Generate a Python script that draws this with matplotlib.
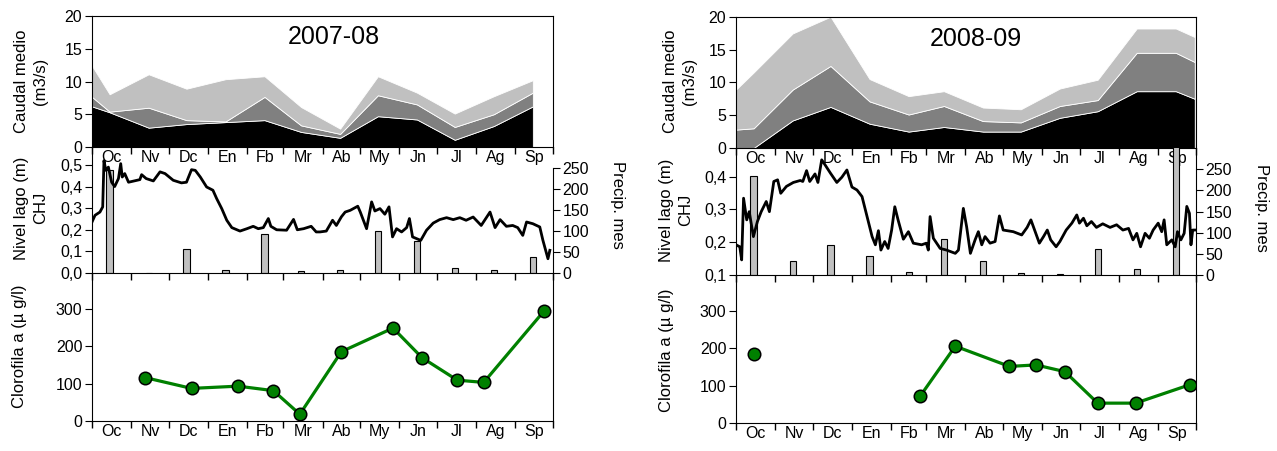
import numpy as np
import matplotlib
matplotlib.use('Agg')
import matplotlib.pyplot as plt
from matplotlib.ticker import FixedLocator, NullFormatter, FuncFormatter

plt.rcParams['font.family'] = ['Liberation Sans', 'DejaVu Sans']

month_labels = ['Oc', 'Nv', 'Dc', 'En', 'Fb', 'Mr', 'Ab', 'My', 'Jn', 'Jl', 'Ag', 'Sp']

# ---------------- 2007-08 ----------------
caudal_dates_0708 = ['2007-10-01', '2007-10-15', '2007-11-15', '2007-12-15', '2008-01-15',
                     '2008-02-15', '2008-03-15', '2008-04-15', '2008-05-15', '2008-06-15',
                     '2008-07-15', '2008-08-15', '2008-09-15']
caudal_black_0708 = [6.2, 5.3, 2.95, 3.5, 3.8, 4.1, 2.3, 1.4, 4.7, 4.2, 1.1, 3.2, 6.2]
caudal_dark_0708 = [1.45, 0.1, 3.05, 0.6, 0.1, 3.55, 1.0, 0.6, 3.2, 2.3, 1.96, 1.8, 2.1]
caudal_light_0708 = [4.75, 2.65, 5.1, 4.8, 6.45, 3.15, 2.8, 0.8, 2.9, 1.8, 2.04, 2.75, 1.9]

precip_0708 = [245, 0, 58, 6, 92, 4, 7, 101, 76, 12, 8, 37]

nivel_days_0708 = [0, 2.4, 6.3, 8.5, 9.5, 11, 13, 15.6, 18, 21, 22.8, 24, 26, 29, 38, 39.4, 43,
                   48.7, 54, 58, 64.5, 71, 75, 79, 82, 86, 91, 96, 99, 103, 107, 111, 117.5,
                   123, 128, 132, 136, 140, 142, 146.6, 154.5, 160, 163, 168, 174, 178, 181,
                   186, 191, 194, 198, 201, 205, 211, 213, 218, 222, 224.6, 228.6, 232.5,
                   235.8, 238.6, 241.8, 245.8, 249.8, 252, 254.5, 257.7, 261, 265.6, 270.9,
                   276, 281.5, 286.8, 292, 297, 302.6, 309, 316, 320, 324, 329, 334, 338, 342,
                   345, 350, 355.5, 358, 362, 363.5]
nivel_vals_0708 = [0.236, 0.267, 0.282, 0.306, 0.52, 0.475, 0.49, 0.42, 0.40, 0.437, 0.506,
                   0.444, 0.46, 0.42, 0.432, 0.455, 0.437, 0.426, 0.468, 0.46, 0.429, 0.417,
                   0.42, 0.478, 0.475, 0.444, 0.398, 0.383, 0.344, 0.298, 0.244, 0.21, 0.194,
                   0.205, 0.216, 0.205, 0.21, 0.252, 0.216, 0.20, 0.198, 0.248, 0.20, 0.205,
                   0.216, 0.19, 0.19, 0.194, 0.244, 0.22, 0.26, 0.282, 0.29, 0.309, 0.282,
                   0.205, 0.329, 0.287, 0.298, 0.272, 0.306, 0.167, 0.205, 0.19, 0.21, 0.252,
                   0.167, 0.159, 0.151, 0.198, 0.231, 0.247, 0.256, 0.247, 0.256, 0.244, 0.259,
                   0.22, 0.282, 0.21, 0.247, 0.216, 0.22, 0.21, 0.174, 0.236, 0.228, 0.213,
                   0.151, 0.066, 0.105]

chl_dates_0708 = ['2007-11-12', '2007-12-19', '2008-01-25', '2008-02-22', '2008-03-14',
                  '2008-04-16', '2008-05-27', '2008-06-19', '2008-07-17', '2008-08-07',
                  '2008-09-24']
chl_vals_0708 = [116, 87, 93, 81, 18, 185, 248, 169, 109, 103, 294]

# ---------------- 2008-09 ----------------
caudal_dates_0809 = ['2008-10-01', '2008-10-15', '2008-11-15', '2008-12-15', '2009-01-15',
                     '2009-02-15', '2009-03-15', '2009-04-15', '2009-05-15', '2009-06-15',
                     '2009-07-15', '2009-08-15', '2009-09-15', '2009-09-30']
caudal_black_0809 = [0, 0, 4.2, 6.26, 3.7, 2.5, 3.2, 2.5, 2.5, 4.6, 5.6, 8.65, 8.65, 7.5]
caudal_dark_0809 = [2.8, 3.0, 4.7, 6.24, 3.4, 2.6, 3.2, 1.6, 1.4, 1.8, 1.7, 5.85, 5.85, 5.6]
caudal_light_0809 = [6.1, 8.5, 8.55, 7.5, 3.4, 2.8, 2.25, 2.06, 2.0, 2.66, 3.1, 3.7, 3.7, 3.8]

precip_0809 = [234, 34, 72, 45, 8, 85, 34, 5, 2, 61, 13, 320]

nivel_days_0809 = [0, 3, 4.5, 6, 8.5, 10.5, 13.8, 17, 20, 24, 26.5, 30, 33, 35.5, 40, 45.5, 51,
                   53, 56, 58.5, 62.7, 65, 68, 70.6, 75, 80, 84, 88, 92, 96, 100, 104, 108,
                   110.6, 113, 115, 118, 120.7, 123.5, 126, 128.6, 132.8, 136.8, 140.7, 147.3,
                   151, 152.6, 154, 156.6, 162, 167, 174, 176.5, 180.4, 183, 186, 189.7,
                   192.3, 195, 197.6, 201.6, 205.6, 209, 212, 220, 226.7, 231, 234, 237.4,
                   240.7, 244, 247, 249.7, 254, 257, 262, 266.5, 270.4, 272.5, 275.7, 278.4,
                   282, 286, 291, 296.8, 302, 307, 311.5, 315, 318, 321, 324.6, 328, 331, 335,
                   337.8, 339.7, 341.8, 345.8, 348.5, 350.3, 353, 355.6, 357.7, 359.8, 361,
                   362.4, 364]
nivel_vals_0809 = [0.192, 0.186, 0.146, 0.334, 0.268, 0.293, 0.217, 0.263, 0.293, 0.324, 0.293,
                   0.385, 0.39, 0.349, 0.37, 0.382, 0.388, 0.385, 0.418, 0.385, 0.408, 0.382,
                   0.451, 0.436, 0.41, 0.382, 0.398, 0.42, 0.368, 0.359, 0.339, 0.278, 0.217,
                   0.192, 0.235, 0.176, 0.202, 0.181, 0.237, 0.308, 0.268, 0.209, 0.232, 0.197,
                   0.192, 0.197, 0.176, 0.278, 0.212, 0.181, 0.176, 0.166, 0.176, 0.303, 0.247,
                   0.166, 0.207, 0.232, 0.192, 0.217, 0.197, 0.202, 0.28, 0.237, 0.232, 0.222,
                   0.245, 0.268, 0.232, 0.197, 0.217, 0.237, 0.207, 0.186, 0.202, 0.237, 0.258,
                   0.283, 0.258, 0.273, 0.25, 0.263, 0.245, 0.256, 0.245, 0.253, 0.237, 0.242,
                   0.207, 0.227, 0.186, 0.227, 0.212, 0.237, 0.258, 0.232, 0.268, 0.192, 0.207,
                   0.186, 0.232, 0.207, 0.227, 0.309, 0.288, 0.192, 0.237, 0.237]

chl_dates_0809 = ['2008-10-15', '2009-02-24', '2009-03-24', '2009-05-06', '2009-05-27',
                  '2009-06-19', '2009-07-15', '2009-08-14', '2009-09-26']
chl_vals_0809 = [185, 71, 205, 151, 155, 137, 53, 53, 102]

W, H = 1277, 451
fig = plt.figure(figsize=(W / 100, H / 100), dpi=100)

FS_TICK = 11.5
FS_LAB = 12


def fx(px):
    return px / W


def fy(py):
    return 1 - py / H


def comma(v, pos):
    return ('%.1f' % v).replace('.', ',')


def days_from(start, dates):
    d = np.array(dates, dtype='datetime64[D]')
    return (d - start).astype(float)


def setup_xaxis(ax, edges, mids, labels=True):
    ax.set_xlim(edges[0], edges[-1])
    ax.xaxis.set_major_locator(FixedLocator(edges))
    ax.xaxis.set_major_formatter(NullFormatter())
    if labels:
        ax.xaxis.set_minor_locator(FixedLocator(mids))
        ax.set_xticks(mids, month_labels, minor=True)
    ax.tick_params(axis='x', which='major', direction='out', length=5, width=1)
    ax.tick_params(axis='x', which='minor', length=0, labelsize=FS_TICK, pad=2)


def panel(year0, left, right, ytop, ymid, ybot, ybottom,
          cd, cb, cdk, cl, prec, nd, nv, nylim, nticks, chd, chv, chl_line_from,
          title, title_xy, bound_right, labx):
    start = np.datetime64('%d-10-01' % year0)
    months = np.arange(np.datetime64('%d-10' % year0), np.datetime64('%d-11' % (year0 + 1)),
                       dtype='datetime64[M]')
    edges = (months.astype('datetime64[D]') - start).astype(float)
    mids = (edges[:-1] + edges[1:]) / 2
    x0, w = fx(left), fx(right) - fx(left)

    # ---- top: caudal ----
    ax1 = fig.add_axes([x0, fy(ymid), w, fy(ytop) - fy(ymid)])
    xd = days_from(start, cd)
    ax1.stackplot(xd, cb, cdk, cl, colors=['black', '#808080', '#c0c0c0'],
                  edgecolor='white', linewidth=0.6)
    ax1.set_ylim(0, 20)
    ax1.set_yticks([0, 5, 10, 15, 20])
    ax1.tick_params(axis='y', direction='out', length=5, labelsize=FS_TICK, pad=2)
    setup_xaxis(ax1, edges, mids)
    ax1.text(title_xy[0], title_xy[1], title, transform=ax1.transAxes, fontsize=18,
             ha='center', va='center')

    # ---- middle: nivel + precip ----
    ax2 = fig.add_axes([x0, fy(ybot), w, fy(ymid) - fy(ybot)])
    ax2b = ax2.twinx()
    ax2.set_zorder(ax2b.get_zorder() + 1)
    ax2.patch.set_visible(False)
    ax2b.patch.set_visible(False)
    pos_bars = mids - 1.0
    ax2b.bar(edges[:-1] + 14, prec, width=5, color='#c0c0c0', edgecolor='black',
             linewidth=0.8)
    ax2b.set_ylim(0, 300)
    ax2b.set_yticks([0, 50, 100, 150, 200, 250])
    ax2b.tick_params(axis='y', direction='out', length=5, labelsize=FS_TICK, pad=2)
    for s in ['top', 'left', 'bottom']:
        ax2b.spines[s].set_visible(False)
    if bound_right:
        ax2b.spines['right'].set_bounds(0, 250)
    ax2.plot(nd, nv, color='black', lw=2)
    ax2.set_ylim(*nylim)
    ax2.set_yticks(nticks)
    ax2.yaxis.set_major_formatter(FuncFormatter(comma))
    ax2.tick_params(axis='y', direction='out', length=5, labelsize=FS_TICK, pad=2)
    setup_xaxis(ax2, edges, mids, labels=False)
    ax2.spines['top'].set_visible(False)
    ax2.spines['right'].set_visible(False)

    # ---- bottom: clorofila ----
    ax3 = fig.add_axes([x0, fy(ybottom), w, fy(ybot) - fy(ybottom)])
    ax3.patch.set_visible(False)
    xc = days_from(start, chd)
    ax3.plot(xc[chl_line_from:], chv[chl_line_from:], color='#008000', lw=2.3, zorder=2)
    ax3.plot(xc, chv, linestyle='none', marker='o', ms=9, mfc='#008000', mec='black',
             mew=1.1, zorder=3)
    ax3.set_ylim(0, 395)
    ax3.set_yticks([0, 100, 200, 300])
    ax3.tick_params(axis='y', direction='out', length=5, labelsize=FS_TICK, pad=2)
    setup_xaxis(ax3, edges, mids)
    ax3.spines['top'].set_visible(False)

    # labels
    fig.text(fx(labx[0]), fy(labx[1]), 'Caudal medio\n(m3/s)', rotation=90, ha='center',
             va='center', fontsize=FS_LAB, multialignment='center', linespacing=1.3)
    fig.text(fx(labx[2]), fy(labx[3]), 'Nivel lago (m)\nCHJ', rotation=90, ha='center',
             va='center', fontsize=FS_LAB, multialignment='center', linespacing=1.3)
    fig.text(fx(labx[4]), fy(labx[5]), 'Clorofila a (µ g/l)', rotation=90, ha='center',
             va='center', fontsize=FS_LAB)
    fig.text(fx(labx[6]), fy(labx[7]), 'Precip. mes', rotation=270, ha='center',
             va='center', fontsize=FS_LAB)


panel(2007, 92, 553, 16, 147, 273, 421,
      caudal_dates_0708, caudal_black_0708, caudal_dark_0708, caudal_light_0708,
      precip_0708, nivel_days_0708, nivel_vals_0708, (0, 0.583),
      [0, 0.1, 0.2, 0.3, 0.4, 0.5],
      chl_dates_0708, chl_vals_0708, 0, '2007-08', (0.524, 0.836), True,
      (31, 81, 31, 208, 20, 346, 617, 205))

panel(2008, 736, 1196, 16.7, 148, 275, 423,
      caudal_dates_0809, caudal_black_0809, caudal_dark_0809, caudal_light_0809,
      precip_0809, nivel_days_0809, nivel_vals_0809, (0.1, 0.487),
      [0.1, 0.2, 0.3, 0.4],
      chl_dates_0809, chl_vals_0809, 1, '2008-09', (0.522, 0.83), False,
      (680, 81, 676, 210, 667, 350, 1261, 208))

fig.savefig('out.png', dpi=100)
